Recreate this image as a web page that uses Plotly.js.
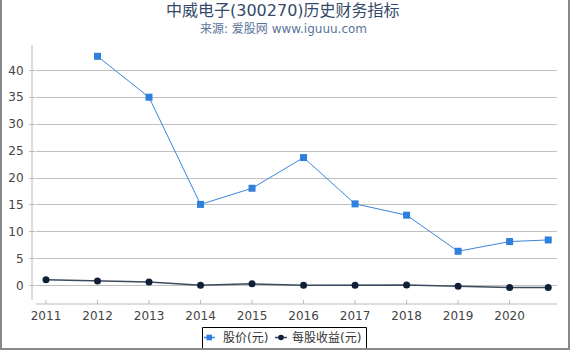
<!DOCTYPE html>
<html><head><meta charset="utf-8">
<script src="https://cdn.plot.ly/plotly-3.0.1.min.js"></script>
<style>body{margin:0;background:#fff}#wrap{position:relative;width:570px;height:350px;overflow:hidden}#frame{position:absolute;left:0;top:0;width:566px;height:348px;border-left:2px solid #888;border-right:2px solid #888;border-bottom:2px solid #888;pointer-events:none}</style>
</head><body><div id="wrap"><div id="chart" style="width:570px;height:350px"></div><div id="frame"></div></div>
<script>
const years = [2011, 2012, 2013, 2014, 2015, 2016, 2017, 2018, 2019, 2020, 2020.75];
const tickYears = [2011, 2012, 2013, 2014, 2015, 2016, 2017, 2018, 2019, 2020];
const tickLabels = ['2011','2012','2013','2014','2015','2016','2017','2018','2019','2020'];
const price = [null, 42.6, 35.0, 15.1, 18.1, 23.8, 15.2, 13.1, 6.4, 8.2, 8.5];
const eps = [1.1, 0.9, 0.7, 0.1, 0.35, 0.1, 0.1, 0.12, -0.1, -0.35, -0.35];
const yTicks = [0, 5, 10, 15, 20, 25, 30, 35, 40];
const seriesNames = ['股价(元)', '每股收益(元)'];
const title = '中威电子(300270)历史财务指标';
const subtitle = '来源: 爱股网 www.iguuu.com';

const F = 'DejaVu Sans, Noto Sans CJK SC, sans-serif';
const PRICE_COLOR = '#2f7fdc', PRICE_LINE = '#3a86dc';
const EPS_COLOR = '#0f1f38', EPS_LINE = '#3b4a5e';
// pixel -> paper conversion (plot area: x 36..557, y 45..300)
const ML = 36, MT = 45, PW = 521, PH = 255;
const px = X => (X - ML) / PW;
const py = Y => (MT + PH - Y) / PH;

const traces = [
  {x: years, y: price, name: seriesNames[0], type: 'scatter', mode: 'lines+markers',
   line: {color: PRICE_LINE, width: 1}, marker: {symbol: 'square', size: 7, color: PRICE_COLOR}, connectgaps: false},
  {x: years, y: eps, name: seriesNames[1], type: 'scatter', mode: 'lines+markers',
   line: {color: EPS_LINE, width: 1.5}, marker: {symbol: 'circle', size: 7, color: EPS_COLOR}}
];

const legendY = 337.5;
const legendShapes = [
  {type: 'rect', xref: 'paper', yref: 'paper', x0: px(202.5), x1: px(366.5), y0: py(348.5), y1: py(327.5), line: {color: '#000', width: 1}, fillcolor: 'rgba(0,0,0,0)'},
  {type: 'line', xref: 'paper', yref: 'paper', x0: px(204), x1: px(215), y0: py(legendY), y1: py(legendY), line: {color: PRICE_LINE, width: 1.5}},
  {type: 'rect', xref: 'paper', yref: 'paper', x0: px(206.5), x1: px(212), y0: py(legendY + 2.8), y1: py(legendY - 2.8), line: {width: 0}, fillcolor: PRICE_COLOR},
  {type: 'line', xref: 'paper', yref: 'paper', x0: px(275), x1: px(287), y0: py(legendY), y1: py(legendY), line: {color: EPS_LINE, width: 1.5}},
  {type: 'circle', xref: 'paper', yref: 'paper', x0: px(278.2), x1: px(283.8), y0: py(legendY + 2.8), y1: py(legendY - 2.8), line: {width: 0}, fillcolor: EPS_COLOR}
];

const layout = {
  width: 570, height: 350,
  margin: {l: ML, r: 570 - ML - PW, t: MT, b: 350 - MT - PH, autoexpand: false},
  paper_bgcolor: '#fff', plot_bgcolor: '#fff',
  font: {family: F, size: 12, color: '#444'},
  showlegend: false,
  xaxis: {range: [2010.806, 2020.92], tickvals: tickYears, ticktext: tickLabels,
    showgrid: false, zeroline: false, showline: false, ticks: '', ticklabelstandoff: 7,
    tickfont: {size: 12, color: '#444'}},
  yaxis: {range: [-2.65, 44.7], tickvals: yTicks, showgrid: true,
    gridcolor: '#c0c0c0', gridwidth: 1, zeroline: false, showline: false,
    ticks: 'outside', ticklen: 6, tickcolor: '#bbb', tickwidth: 1, ticklabelstandoff: 3,
    tickfont: {size: 12, color: '#444'}},
  shapes: [
    {type: 'line', xref: 'paper', yref: 'paper', xsizemode: 'pixel', xanchor: 0, x0: -4, x1: -4, y0: 0, y1: 1, line: {color: '#bbb', width: 1}},
    {type: 'line', xref: 'paper', yref: 'paper', ysizemode: 'pixel', yanchor: 0, y0: -4, y1: -4, x0: 0, x1: 1, line: {color: '#bbb', width: 1}}
  ].concat(tickYears.map(v => ({type: 'line', xref: 'x', yref: 'paper', ysizemode: 'pixel', yanchor: 0, x0: v, x1: v, y0: -4, y1: 0, line: {color: '#bbb', width: 1}})))
   .concat(legendShapes),
  annotations: [
    {text: title, xref: 'paper', yref: 'paper', x: 0.475, y: 1.137, xanchor: 'center', yanchor: 'middle', showarrow: false, font: {family: F, size: 16, color: '#34496a'}},
    {text: subtitle, xref: 'paper', yref: 'paper', x: 0.475, y: 1.063, xanchor: 'center', yanchor: 'middle', showarrow: false, font: {family: F, size: 12, color: '#5a7499'}},
    {text: seriesNames[0], xref: 'paper', yref: 'paper', x: px(222), y: py(legendY), xanchor: 'left', yanchor: 'middle', showarrow: false, borderpad: 0, font: {family: F, size: 12, color: '#333'}},
    {text: seriesNames[1], xref: 'paper', yref: 'paper', x: px(291), y: py(legendY), xanchor: 'left', yanchor: 'middle', showarrow: false, borderpad: 0, font: {family: F, size: 12, color: '#333'}}
  ]
};
Plotly.newPlot('chart', traces, layout, {displayModeBar: false, staticPlot: true});
</script></body></html>
